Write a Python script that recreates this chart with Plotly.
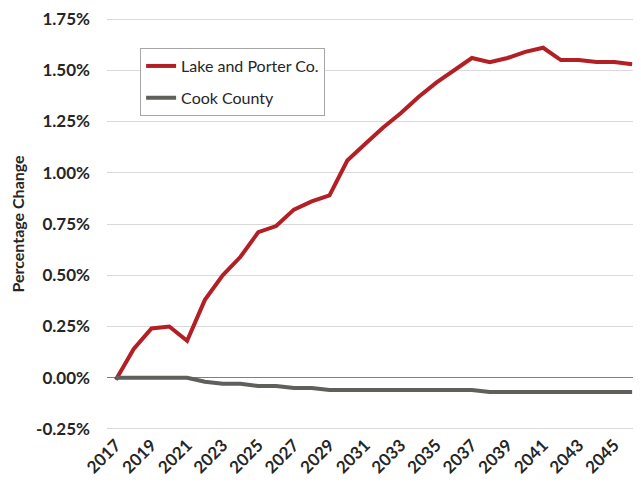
import plotly.graph_objects as go

years = [str(y) for y in range(2017, 2047)]
lake_porter = [-0.01, 0.14, 0.24, 0.25, 0.18, 0.38, 0.50, 0.59, 0.71, 0.74,
               0.82, 0.86, 0.89, 1.06, 1.14, 1.22, 1.29, 1.37, 1.44, 1.50,
               1.56, 1.54, 1.56, 1.59, 1.61, 1.55, 1.55, 1.54, 1.54, 1.53]
cook = [0.00, 0.00, 0.00, 0.00, 0.00, -0.02, -0.03, -0.03, -0.04, -0.04,
        -0.05, -0.05, -0.06, -0.06, -0.06, -0.06, -0.06, -0.06, -0.06, -0.06,
        -0.06, -0.07, -0.07, -0.07, -0.07, -0.07, -0.07, -0.07, -0.07, -0.07]
y_ticks = [-0.25, 0.0, 0.25, 0.5, 0.75, 1.0, 1.25, 1.5, 1.75]
y_labels = ["-0.25%", "0.00%", "0.25%", "0.50%", "0.75%", "1.00%", "1.25%", "1.50%", "1.75%"]

fig = go.Figure()
fig.add_trace(go.Scatter(x=years, y=lake_porter, mode="lines", name="Lake and Porter Co.",
                         legendgroup="a", line=dict(color="#B21F24", width=4)))
fig.add_trace(go.Scatter(x=years, y=cook, mode="lines", name="Cook County",
                         legendgroup="b", line=dict(color="#5E605C", width=4)))

tick_font = dict(size=17, color="#262626", family="Lato, sans-serif", weight="bold")

fig.update_layout(
    width=641, height=483,
    margin=dict(l=99, r=8, t=9, b=60),
    plot_bgcolor="white", paper_bgcolor="white",
    font=dict(family="Lato, Open Sans, sans-serif", color="#262626"),
    showlegend=True,
    legend=dict(x=0.062, y=0.925, xanchor="left", yanchor="top",
                bgcolor="white", bordercolor="#A6A6A6", borderwidth=1,
                font=dict(size=16, color="#262626"), tracegroupgap=8),
)
fig.update_xaxes(type="category", range=[-0.5, 29.5], tickangle=-45,
                 tickvals=years[::2], ticktext=years[::2], tickfont=tick_font,
                 showgrid=False, showline=False, ticks="", automargin=False)
fig.update_yaxes(range=[-0.26, 1.76], tickvals=y_ticks, ticktext=y_labels, tickfont=tick_font,
                 showgrid=True, gridcolor="#D9D9D9", gridwidth=1,
                 zeroline=True, zerolinecolor="#7F7F7F", zerolinewidth=1,
                 title=dict(text="<b>Percentage Change</b>", font=dict(size=16, color="#262626"), standoff=8),
                 ticklabelstandoff=16, ticklabeloverflow="allow", automargin=False)

fig.write_html("out.html")
